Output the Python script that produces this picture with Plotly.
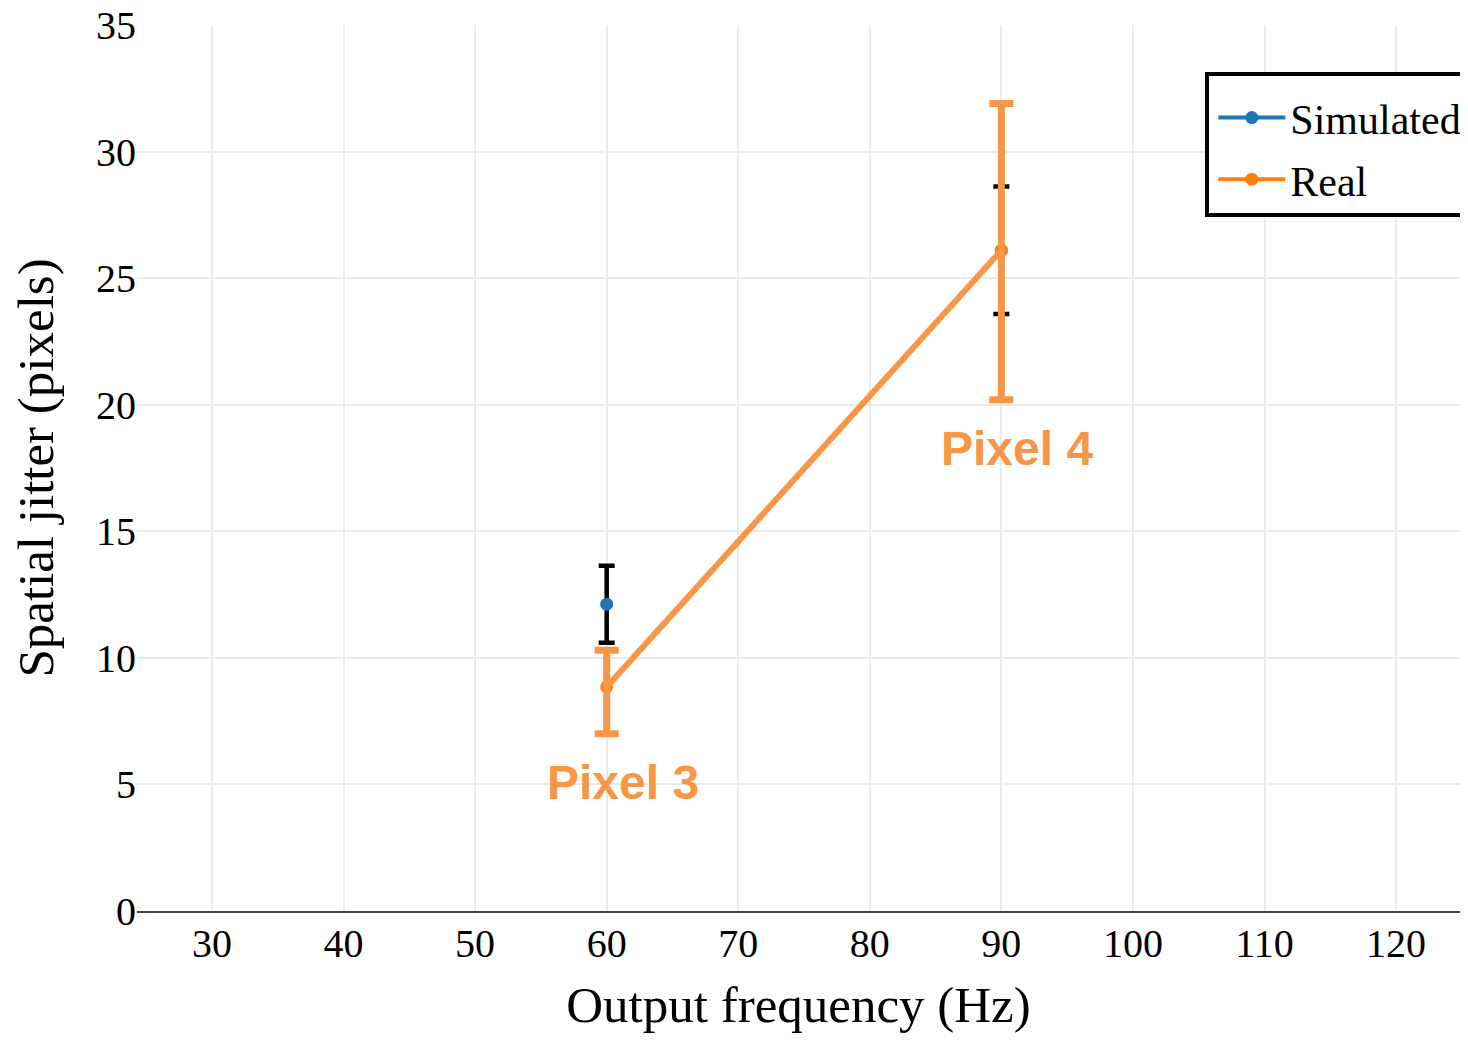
import plotly.graph_objects as go

# ---- data ----
freq = [60, 90]
pixel_labels = ["Pixel 3", "Pixel 4"]
sim_mean = [12.12, 26.1]
sim_err = [1.52, 2.52]
real_mean = [8.85, 26.1]
real_err_plus = [1.45, 5.8]
real_err_minus = [1.85, 5.9]

x_ticks = [30, 40, 50, 60, 70, 80, 90, 100, 110, 120]
y_ticks = [0, 5, 10, 15, 20, 25, 30, 35]

SERIF = "Liberation Serif, Times New Roman, serif"
BLUE = "#1f77b4"
ORANGE = "#ff7f0e"
ORANGE_SOFT = "#F79646"

fig = go.Figure()

# Simulated: one trace per pixel (markers only), grouped into a single legend entry
for i, (xv, yv, ev) in enumerate(zip(freq, sim_mean, sim_err)):
    fig.add_trace(go.Scatter(
        x=[xv], y=[yv], mode="lines+markers", name="Simulated",
        legendgroup="sim", showlegend=(i == 0),
        line=dict(color=BLUE, width=4),
        marker=dict(color=BLUE, size=13),
        error_y=dict(type="data", array=[ev], visible=True,
                     color="black", thickness=4.5, width=8),
    ))

# Real: legend entry with markers
fig.add_trace(go.Scatter(
    x=freq, y=real_mean, mode="lines+markers", name="Real",
    line=dict(color=ORANGE, width=4),
    marker=dict(color=ORANGE, size=13),
))
# Real: thick line with error bars on top
fig.add_trace(go.Scatter(
    x=freq, y=real_mean, mode="lines", showlegend=False,
    line=dict(color=ORANGE_SOFT, width=6),
    error_y=dict(type="data", symmetric=False, array=real_err_plus,
                 arrayminus=real_err_minus, visible=True,
                 color=ORANGE_SOFT, thickness=7, width=12),
))

for xv, yv, em, lab in zip(freq, real_mean, real_err_minus, pixel_labels):
    fig.add_annotation(
        x=xv, y=yv - em, xref="x", yref="y", text=f"<b>{lab}</b>",
        showarrow=False, yanchor="top", xanchor="center",
        xshift=16, yshift=-20,
        font=dict(family="Liberation Sans, Arial, sans-serif", size=48, color=ORANGE_SOFT),
    )

fig.update_layout(
    width=1452, height=1025,
    margin=dict(l=129, r=0, t=17, b=122, autoexpand=False),
    paper_bgcolor="white", plot_bgcolor="white",
    font=dict(family=SERIF, size=40, color="black"),
    showlegend=True,
    legend=dict(
        x=0.8075, y=0.947, xanchor="left", yanchor="top",
        bgcolor="white", bordercolor="black", borderwidth=4,
        font=dict(family=SERIF, size=42, color="black"),
        itemwidth=67, tracegroupgap=4, indentation=4,
        title=dict(text="\u00a0", font=dict(size=6)),
    ),
    xaxis=dict(
        range=[24.3, 124.86], tickvals=x_ticks, ticktext=[str(v) for v in x_ticks],
        showgrid=True, gridcolor="#ebebeb", gridwidth=2, zeroline=False,
        showline=True, linecolor="#444", linewidth=2, ticks="",
        title=dict(text="Output frequency (Hz)", font=dict(family=SERIF, size=51), standoff=43),
        tickfont=dict(family=SERIF, size=40),
        ticklabelstandoff=-4, ticklabeloverflow="allow",
    ),
    yaxis=dict(
        range=[0, 35], tickvals=y_ticks, ticktext=[str(v) for v in y_ticks],
        showgrid=True, gridcolor="#ebebeb", gridwidth=2, zeroline=False,
        showline=False, ticks="",
        title=dict(text="Spatial jitter (pixels)", font=dict(family=SERIF, size=51), standoff=31),
        tickfont=dict(family=SERIF, size=40),
        ticklabeloverflow="allow",
    ),
)

fig.write_html("out.html")
